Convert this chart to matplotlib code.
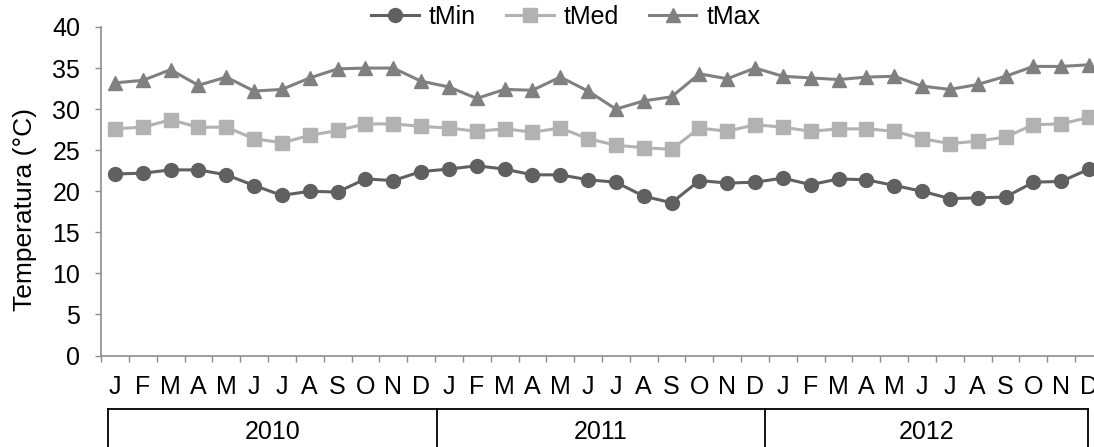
import numpy as np
import matplotlib
matplotlib.use("Agg")
import matplotlib.pyplot as plt
from matplotlib.lines import Line2D

plt.rcParams['font.family'] = ['Liberation Sans', 'DejaVu Sans']
plt.rcParams['font.size'] = 18

# Dados
meses = ["J", "F", "M", "A", "M", "J", "J", "A", "S", "O", "N", "D"]
anos = ["2010", "2011", "2012"]

t_min = [22.1, 22.2, 22.6, 22.6, 22.0, 20.7, 19.5, 20.0, 19.9, 21.5, 21.3, 22.4,
         22.7, 23.1, 22.7, 22.0, 22.0, 21.4, 21.1, 19.4, 18.6, 21.3, 21.0, 21.1,
         21.6, 20.8, 21.5, 21.4, 20.7, 20.0, 19.1, 19.2, 19.3, 21.1, 21.2, 22.7]
t_med = [27.6, 27.8, 28.7, 27.8, 27.8, 26.4, 25.9, 26.8, 27.4, 28.2, 28.2, 27.9,
         27.7, 27.3, 27.6, 27.2, 27.7, 26.4, 25.6, 25.3, 25.1, 27.7, 27.3, 28.1,
         27.8, 27.3, 27.6, 27.6, 27.3, 26.4, 25.8, 26.1, 26.6, 28.1, 28.2, 29.0]
t_max = [33.2, 33.5, 34.8, 32.9, 33.9, 32.2, 32.4, 33.8, 34.9, 35.0, 35.0, 33.4,
         32.7, 31.3, 32.4, 32.3, 33.9, 32.2, 30.0, 31.0, 31.5, 34.3, 33.7, 35.0,
         34.0, 33.8, 33.6, 33.9, 34.0, 32.8, 32.4, 33.0, 34.0, 35.2, 35.2, 35.4]

rotulos = meses * len(anos)
x = np.arange(len(rotulos))

fig = plt.figure(figsize=(10.94, 4.47), dpi=100)
ax = fig.add_axes([101/1094, 1 - 355.5/447, 1002/1094, 328.5/447])

cinza_eixo = '#8c8c8c'
ax.plot(x, t_min, '-o', color='#606060', lw=2.2, ms=10, label='tMin')
ax.plot(x, t_med, '-s', color='#b2b2b2', lw=2.2, ms=9.5, label='tMed')
ax.plot(x, t_max, '-^', color='#808080', lw=2.2, ms=10.5, label='tMax')

ax.set_xlim(-0.5, len(x) - 0.5)
ax.set_ylim(0, 40)
ax.set_yticks(np.arange(0, 41, 5))
ax.set_xticks(x)
ax.set_xticklabels(rotulos)
ax.set_xticks(np.arange(-0.5, len(x)), minor=True)
ax.tick_params(axis='x', which='major', length=0, pad=14)
ax.tick_params(axis='x', which='minor', length=4.5, color=cinza_eixo, width=1)
ax.tick_params(axis='y', length=4.5, color=cinza_eixo, width=1, pad=10.5)

for lado in ['top', 'right']:
    ax.spines[lado].set_visible(False)
for lado in ['left', 'bottom']:
    ax.spines[lado].set_color(cinza_eixo)
    ax.spines[lado].set_linewidth(1.2)

ax.set_ylabel('Temperatura (°C)', fontsize=19)
ax.yaxis.set_label_coords(-0.064, 0.443)

ax.legend(loc='center', bbox_to_anchor=(0.464, 1 + 10/328.5), ncol=3, frameon=False,
          handlelength=1.9, columnspacing=1.2, handletextpad=0.4,
          borderaxespad=0, borderpad=0)

# Tabela dos anos abaixo do eixo
W, H = 1094, 447
y_top = 1 - 409/H
xs = [108, 436.5, 765, 1088]
fig.add_artist(Line2D([xs[0]/W, xs[-1]/W], [y_top, y_top], color='black', lw=1.3))
for xv in xs:
    fig.add_artist(Line2D([xv/W, xv/W], [y_top, 0], color='black', lw=1.3))
for i, ano in enumerate(anos):
    fig.text((xs[i] + xs[i+1]) / 2 / W, 1 - 432/H, ano, ha='center', va='center')

plt.savefig('out.png', dpi=100)
